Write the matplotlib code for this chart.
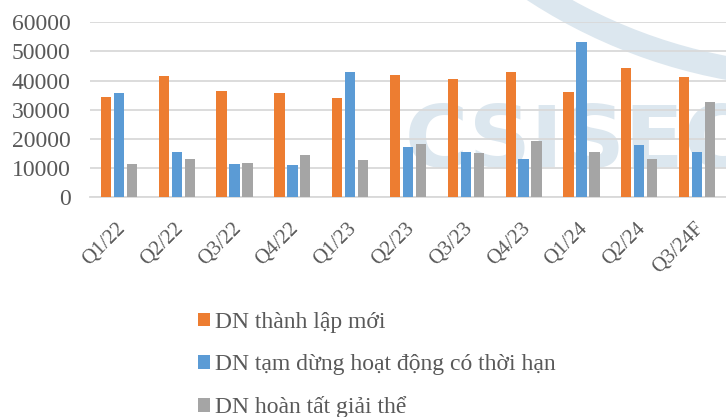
import numpy as np
import matplotlib
matplotlib.use("Agg")
import matplotlib.pyplot as plt
from matplotlib.patches import Arc
from matplotlib.transforms import ScaledTranslation

quarters = ["Q1/22", "Q2/22", "Q3/22", "Q4/22", "Q1/23", "Q2/23",
            "Q3/23", "Q4/23", "Q1/24", "Q2/24", "Q3/24F"]
new_firms = [34500, 41500, 36500, 35600, 33900, 41900,
             40400, 42900, 36100, 44200, 41300]
suspended = [35600, 15400, 11400, 11100, 42800, 17200,
             15600, 13100, 53200, 17800, 15400]
dissolved = [11400, 13000, 11700, 14300, 12600, 18100,
             15000, 19200, 15400, 13100, 32600]

series_names = ["DN thành lập mới",
                "DN tạm dừng hoạt động có thời hạn",
                "DN hoàn tất giải thể"]
colors = ["#ED7D31", "#5B9BD5", "#A5A5A5"]
text_color = "#595959"
serif = ["Liberation Serif", "DejaVu Serif"]

fig = plt.figure(figsize=(7.26, 4.17), dpi=100)

# background watermark, drawn in pixel coordinates
bg = fig.add_axes([0, 0, 1, 1], zorder=0)
bg.set_xlim(0, 726)
bg.set_ylim(417, 0)
bg.axis("off")
bg.add_patch(Arc((824, -453), 2 * 530, 2 * 530, theta1=90, theta2=200,
                 color="#dce7ef", lw=17))
bg.text(405, 143, "CSISEC", color="#dce7ef", fontsize=62, fontweight="bold",
        family="DejaVu Sans", va="center", ha="left", clip_on=True)

ax = fig.add_axes([0.124, 0.5276, 0.876, 0.4189], zorder=1)
ax.patch.set_alpha(0)

x = np.arange(len(quarters))
width = 0.178
pitch = 0.224
for i, (vals, name, c) in enumerate(zip([new_firms, suspended, dissolved],
                                        series_names, colors)):
    ax.bar(x + (i - 1) * pitch, vals, width, color=c, label=name, zorder=3)

ax.set_xlim(-0.5, len(quarters) - 0.5)
ax.set_ylim(0, 60000)
ax.set_yticks(range(0, 60001, 10000))
ax.yaxis.grid(True, color="#d9d9d9", lw=1.3, zorder=0)
for s in ["top", "right", "left"]:
    ax.spines[s].set_visible(False)
ax.spines["bottom"].set_color("#d9d9d9")
ax.spines["bottom"].set_linewidth(1.3)
ax.tick_params(axis="both", length=0, colors=text_color)
ax.tick_params(axis="y", pad=14, labelsize=17)
ax.tick_params(axis="x", pad=8, labelsize=15)
ax.set_xticks(x)
ax.set_xticklabels(quarters, rotation=45, ha="right", rotation_mode="anchor")
shift = ScaledTranslation(-3 / 100, -11 / 100, fig.dpi_scale_trans)
for lbl in ax.get_xticklabels():
    lbl.set_transform(lbl.get_transform() + shift)
for lbl in ax.get_xticklabels() + ax.get_yticklabels():
    lbl.set_family(serif)

handles, labels = ax.get_legend_handles_labels()
leg = fig.legend(handles, labels, loc="upper left",
                 bbox_to_anchor=(198 / 726, 1 - 312 / 417),
                 frameon=False, borderpad=0, borderaxespad=0,
                 handlelength=0.51, handleheight=0.51,
                 handletextpad=0.21, labelspacing=0.9,
                 prop={"family": serif, "size": 17})
for t in leg.get_texts():
    t.set_color(text_color)

fig.savefig("out.png", dpi=100)
